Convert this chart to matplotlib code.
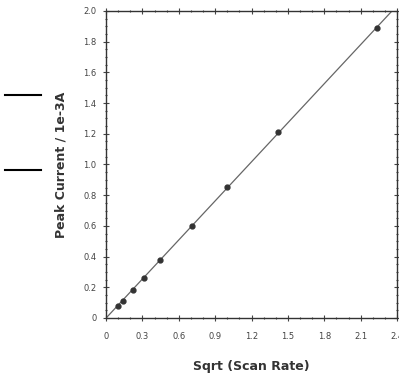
import matplotlib.pyplot as plt
from matplotlib.ticker import MultipleLocator, FuncFormatter
from matplotlib.lines import Line2D
import numpy as np

# data
sqrt_rate = [0.1, 0.141, 0.224, 0.316, 0.447, 0.707, 1.0, 1.414, 2.236]
peak_current = [0.075, 0.11, 0.18, 0.26, 0.375, 0.60, 0.855, 1.21, 1.89]

x_ticks = [0, 0.3, 0.6, 0.9, 1.2, 1.5, 1.8, 2.1, 2.4]
y_ticks = [0, 0.2, 0.4, 0.6, 0.8, 1.0, 1.2, 1.4, 1.6, 1.8, 2.0]

# fitted line through origin
slope = np.sum(np.array(sqrt_rate) * np.array(peak_current)) / np.sum(np.array(sqrt_rate) ** 2)
fit_x = np.array([0, 2.4])

fig = plt.figure(figsize=(3.99, 3.79), dpi=100)
ax = fig.add_axes([0.266, 0.161, 0.729, 0.81])

ax.plot(fit_x, slope * fit_x, color='#666666', lw=0.9, clip_on=True)
ax.plot(sqrt_rate, peak_current, 'o', color='#333333', ms=3.5)

ax.set_xlim(0, 2.4)
ax.set_ylim(0, 2.0)
ax.set_xticks(x_ticks)
ax.set_yticks(y_ticks)
ax.xaxis.set_minor_locator(MultipleLocator(0.1))
ax.yaxis.set_minor_locator(MultipleLocator(0.05))
fmt = FuncFormatter(lambda v, p: '0' if abs(v) < 1e-9 else f'{v:.1f}')
ax.xaxis.set_major_formatter(fmt)
ax.yaxis.set_major_formatter(fmt)
ax.tick_params(which='both', direction='inout', top=True, right=True, colors='#444444',
               labelsize=6, width=0.8)
ax.tick_params(which='major', length=4)
ax.tick_params(which='minor', length=2)
ax.tick_params(axis='x', which='major', pad=8)
ax.tick_params(axis='y', which='major', pad=5)
for s in ax.spines.values():
    s.set_color('#333333')
    s.set_linewidth(1.0)

ax.set_xlabel('Sqrt (Scan Rate)', fontsize=9, fontweight='bold', color='#333333', labelpad=14)
ax.set_ylabel('Peak Current / 1e-3A', fontsize=9, fontweight='bold', color='#333333', labelpad=11)

# two stray marks on the left edge
fig.add_artist(Line2D([5/399, 41/399], [1 - 95/379, 1 - 95/379], color='black', lw=1.5))
fig.add_artist(Line2D([5/399, 41/399], [1 - 170/379, 1 - 170/379], color='black', lw=1.5))

fig.savefig('out.png', dpi=100)
